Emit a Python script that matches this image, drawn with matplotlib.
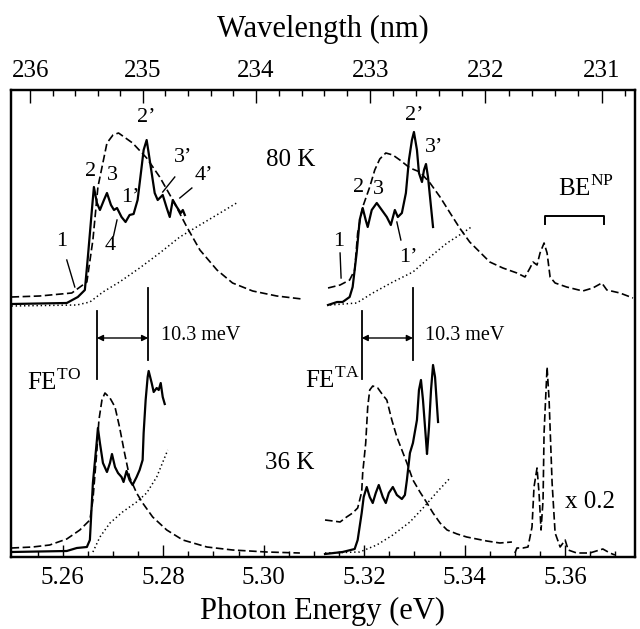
import matplotlib
matplotlib.use('Agg')
import matplotlib.pyplot as plt
import numpy as np

plt.rcParams['font.family'] = ['Liberation Serif', 'DejaVu Serif']
plt.rcParams['mathtext.fontset'] = 'custom'
plt.rcParams['mathtext.rm'] = 'Liberation Serif'
plt.rcParams['lines.scale_dashes'] = False

# ---- data (x: photon energy in eV, y: arbitrary intensity) ----
# 80 K, FE(TO) region
ul_dash_x = [5.2498, 5.2554, 5.2618, 5.2648, 5.2660, 5.2670, 5.2688, 5.2700, 5.2711, 5.2739,
             5.2767, 5.2793, 5.2819, 5.2847, 5.2873, 5.2907, 5.2938, 5.2978, 5.3026, 5.3076]
ul_dash_y = [260, 261, 264, 275, 317, 370, 414, 422, 424, 414,
             399, 380, 357, 330, 307, 287, 274, 266, 261, 258]
ul_solid_x = [5.2498, 5.2608, 5.2630, 5.2644, 5.2650, 5.2658, 5.2662, 5.2668, 5.2674, 5.2682,
              5.2688, 5.2696, 5.2702, 5.2708, 5.2717, 5.2725, 5.2733, 5.2741, 5.2749, 5.2757,
              5.2761, 5.2767, 5.2771, 5.2777, 5.2783, 5.2789, 5.2799, 5.2807, 5.2813, 5.2819,
              5.2827, 5.2835, 5.2839, 5.2843]
ul_solid_y = [253, 254, 260, 267, 300, 347, 370, 354, 347, 357,
              364, 352, 347, 349, 340, 335, 342, 343, 357, 390,
              407, 417, 404, 384, 364, 357, 362, 349, 340, 357,
              350, 344, 347, 342]
ul_dot_x = [5.2498, 5.2628, 5.2654, 5.2680, 5.2713, 5.2753, 5.2793, 5.2833, 5.2873, 5.2913, 5.2946]
ul_dot_y = [251, 252, 255, 265, 275, 289, 304, 320, 332, 344, 354]

# 80 K, FE(TA) region and BE(NP)
ur_dash_x = [5.3128, 5.3152, 5.3171, 5.3181, 5.3187, 5.3197, 5.3211, 5.3221, 5.3231, 5.3243,
             5.3257, 5.3271, 5.3291, 5.3311, 5.3331, 5.3351, 5.3371, 5.3390, 5.3410, 5.3430,
             5.3450, 5.3476, 5.3504, 5.3520, 5.3530, 5.3536, 5.3544, 5.3550, 5.3558, 5.3564,
             5.3570, 5.3580, 5.3603, 5.3635, 5.3655, 5.3673, 5.3683, 5.3709, 5.3735]
ur_dash_y = [269, 272, 277, 287, 324, 350, 370, 387, 398, 404,
             402, 397, 389, 385, 374, 360, 344, 329, 315, 305,
             295, 289, 284, 280, 289, 295, 292, 304, 314, 304,
             280, 274, 270, 266, 269, 274, 267, 264, 259]
ur_solid_x = [5.3128, 5.3146, 5.3157, 5.3171, 5.3177, 5.3185, 5.3191, 5.3197, 5.3203, 5.3207,
              5.3215, 5.3225, 5.3235, 5.3245, 5.3253, 5.3261, 5.3267, 5.3275, 5.3283, 5.3289,
              5.3295, 5.3299, 5.3305, 5.3309, 5.3315, 5.3319, 5.3323, 5.3327, 5.3331, 5.3337]
ur_solid_y = [252, 255, 255, 260, 270, 304, 337, 349, 337, 330,
              347, 354, 347, 340, 332, 347, 340, 344, 364, 397,
              417, 425, 407, 384, 375, 387, 393, 380, 360, 330]
ur_dot_x = [5.3132, 5.3185, 5.3217, 5.3257, 5.3297, 5.3331, 5.3365, 5.3396, 5.3416]
ur_dot_y = [252, 254, 264, 275, 285, 300, 314, 324, 331]

# 36 K, FE(TO) region
ll_dash_x = [5.2498, 5.2540, 5.2574, 5.2608, 5.2634, 5.2654, 5.2660, 5.2668, 5.2672, 5.2678,
             5.2684, 5.2694, 5.2704, 5.2713, 5.2723, 5.2733, 5.2747, 5.2759, 5.2779, 5.2807,
             5.2839, 5.2887, 5.2938, 5.3006, 5.3072]
ll_dash_y = [9, 10, 12, 18, 27, 37, 57, 107, 137, 157,
             164, 159, 150, 130, 104, 80, 64, 54, 40, 27,
             17, 10, 7, 5, 4]
ll_solid_x = [5.2498, 5.2608, 5.2628, 5.2648, 5.2654, 5.2660, 5.2668, 5.2670, 5.2674, 5.2680,
              5.2688, 5.2694, 5.2698, 5.2704, 5.2710, 5.2717, 5.2721, 5.2727, 5.2733, 5.2739,
              5.2747, 5.2753, 5.2759, 5.2761, 5.2765, 5.2769, 5.2771, 5.2777, 5.2781, 5.2787,
              5.2791, 5.2795, 5.2799, 5.2803]
ll_solid_y = [5, 6, 9, 10, 17, 74, 117, 129, 114, 94,
              85, 94, 103, 90, 84, 80, 75, 86, 77, 72,
              80, 87, 97, 124, 157, 180, 186, 174, 165, 169,
              167, 174, 160, 153]
ll_dot_x = [5.2660, 5.2674, 5.2694, 5.2719, 5.2747, 5.2767, 5.2787, 5.2809]
ll_dot_y = [5, 20, 34, 45, 55, 64, 80, 107]

# 36 K, FE(TA) region
lr_dash_x = [5.3122, 5.3138, 5.3152, 5.3165, 5.3177, 5.3187, 5.3195, 5.3197, 5.3203, 5.3207,
             5.3211, 5.3217, 5.3227, 5.3237, 5.3245, 5.3255, 5.3265, 5.3275, 5.3285, 5.3297,
             5.3311, 5.3325, 5.3337, 5.3351, 5.3365, 5.3385, 5.3404, 5.3424, 5.3444, 5.3470,
             5.3494]
lr_dash_y = [37, 36, 35, 40, 44, 49, 65, 84, 114, 150,
             167, 171, 169, 162, 157, 137, 120, 107, 94, 77,
             65, 54, 44, 34, 27, 23, 20, 18, 16, 14,
             15]
# 36 K, BE(NP) lines (x 0.2)
be_dash_x = [5.3500, 5.3504, 5.3516, 5.3526, 5.3534, 5.3538, 5.3544, 5.3548, 5.3552, 5.3556,
             5.3558, 5.3564, 5.3568, 5.3574, 5.3580, 5.3590, 5.3600, 5.3606, 5.3623, 5.3649,
             5.3675, 5.3689, 5.3699]
be_dash_y = [4, 9, 9, 10, 30, 70, 89, 64, 27, 57,
             124, 190, 157, 74, 24, 10, 17, 7, 4, 4,
             8, 4, 2]
lr_solid_x = [5.3122, 5.3157, 5.3181, 5.3187, 5.3195, 5.3199, 5.3205, 5.3211, 5.3217, 5.3223,
              5.3229, 5.3237, 5.3243, 5.3249, 5.3257, 5.3265, 5.3275, 5.3281, 5.3285, 5.3291,
              5.3297, 5.3305, 5.3309, 5.3313, 5.3317, 5.3323, 5.3325, 5.3329, 5.3333, 5.3337,
              5.3341, 5.3345, 5.3347]
lr_solid_y = [3, 5, 8, 17, 44, 60, 70, 60, 54, 64,
              72, 60, 54, 64, 70, 62, 58, 62, 77, 104,
              114, 137, 167, 177, 157, 117, 103, 130, 167, 192,
              180, 150, 135]
lr_dot_x = [5.3122, 5.3191, 5.3225, 5.3257, 5.3291, 5.3319, 5.3345, 5.3371]
lr_dot_y = [4, 5, 12, 22, 35, 50, 65, 79]

# phonon replica markers (eV), separated by 10.3 meV
to_marks = [5.2668, 5.2770]
ta_marks = [5.3195, 5.3297]

energy_ticks = [5.26, 5.28, 5.30, 5.32, 5.34, 5.36]
wl_ticks = [236, 235, 234, 233, 232, 231]
HC = 1239.84  # eV nm

DASH = (0, (5.5, 2.5))
DOT = (0, (1.0, 2.0))

fig = plt.figure(figsize=(6.4, 6.29), dpi=100)
ax = fig.add_axes([11 / 640, 72 / 629, 624 / 640, 467 / 629])
ax.set_xlim(5.2497, 5.3739)
ax.set_ylim(0, 467)

for xs, ys in [(ul_dash_x, ul_dash_y), (ur_dash_x, ur_dash_y), (ll_dash_x, ll_dash_y),
               (lr_dash_x, lr_dash_y), (be_dash_x, be_dash_y)]:
    ax.plot(xs, ys, color='black', lw=1.2, linestyle=DASH)
for xs, ys in [(ul_solid_x, ul_solid_y), (ur_solid_x, ur_solid_y),
               (ll_solid_x, ll_solid_y), (lr_solid_x, lr_solid_y)]:
    ax.plot(xs, ys, color='black', lw=1.6)
for xs, ys in [(ul_dot_x, ul_dot_y), (ur_dot_x, ur_dot_y),
               (ll_dot_x, ll_dot_y), (lr_dot_x, lr_dot_y)]:
    ax.plot(xs, ys, color='black', lw=1.1, linestyle=DOT)

# vertical markers and 10.3 meV arrows
for marks in (to_marks, ta_marks):
    ax.plot([marks[0], marks[0]], [178, 246], color='black', lw=1.3)
    ax.plot([marks[1], marks[1]], [197, 269], color='black', lw=1.3)
    ax.annotate('', xy=(marks[1], 219), xytext=(marks[0], 219),
                arrowprops=dict(arrowstyle='<|-|>', color='black', lw=1.0,
                                mutation_scale=9, shrinkA=0, shrinkB=0))
    ax.text(marks[1] + 0.0025, 222, '10.3 meV', fontsize=14.5, va='center', ha='left')

ax.text(5.2528, 175, r'FE$^{\mathrm{TO}}$', fontsize=18, va='center', ha='left')
ax.text(5.3082, 177, r'FE$^{\mathrm{TA}}$', fontsize=18, va='center', ha='left')
ax.text(5.3054, 397, '80 K', fontsize=18, va='center', ha='center')
ax.text(5.3052, 94, '36 K', fontsize=18, va='center', ha='center')
ax.text(5.3649, 55, 'x 0.2', fontsize=18, va='center', ha='center')
ax.text(5.3641, 369, r'BE$^{\mathrm{NP}}$', fontsize=18, va='center', ha='center')
ax.plot([5.3560, 5.3560, 5.3677, 5.3677], [333, 341, 341, 333], color='black', lw=1.4)

# peak labels with pointer lines
peak_labels = [
    ('1', 5.2598, 315, [(5.2608, 297), (5.2624, 270)]),
    ('2', 5.2656, 386, None),
    ('3', 5.2698, 382, None),
    ('4', 5.2694, 312, [(5.2708, 337), (5.2701, 321)]),
    ('1\u2019', 5.2735, 359, None),
    ('2\u2019', 5.2767, 439, None),
    ('3\u2019', 5.2840, 399, [(5.2823, 380), (5.2799, 365)]),
    ('4\u2019', 5.2881, 381, [(5.2857, 369), (5.2833, 359)]),
    ('1', 5.3150, 315, [(5.3152, 304), (5.3154, 279)]),
    ('2', 5.3189, 369, None),
    ('3', 5.3229, 368, None),
    ('1\u2019', 5.3288, 299, [(5.3265, 335), (5.3273, 317)]),
    ('2\u2019', 5.3300, 442, None),
    ('3\u2019', 5.3340, 410, None),
]
for txt, x, y, seg in peak_labels:
    ax.text(x, y, txt, fontsize=16, va='center', ha='center')
    if seg:
        ax.plot([seg[0][0], seg[1][0]], [seg[0][1], seg[1][1]], color='black', lw=1.0)

# bottom axis: photon energy
ax.set_yticks([])
ax.set_xticks(energy_ticks)
ax.set_xticklabels(['%.2f' % e for e in energy_ticks])
ax.set_xticks(np.arange(5.255, 5.3735, 0.005), minor=True)
ax.tick_params(axis='x', which='major', direction='in', length=8.5, width=1.0,
               labelsize=18, pad=7, top=False)
ax.tick_params(axis='x', which='minor', direction='in', length=4.5, width=1.0, top=False)
ax.set_xlabel('Photon Energy (eV)', fontsize=22, labelpad=6)

# top axis: wavelength
ax2 = ax.twiny()
ax2.set_xlim(ax.get_xlim())
ax2.set_xticks([HC / w for w in wl_ticks])
ax2.set_xticklabels([str(w) for w in wl_ticks])
ax2.set_xticks([HC / w for w in np.arange(230.8, 236.1, 0.2)], minor=True)
ax2.tick_params(axis='x', which='major', direction='in', length=9.5, width=1.0,
                labelsize=18, pad=6)
ax2.tick_params(axis='x', which='minor', direction='in', length=4.5, width=1.0)
ax2.set_xlabel('Wavelength (nm)', fontsize=22, labelpad=16)

for a in (ax, ax2):
    for s in a.spines.values():
        s.set_linewidth(1.6)

fig.savefig('out.png', dpi=100)
